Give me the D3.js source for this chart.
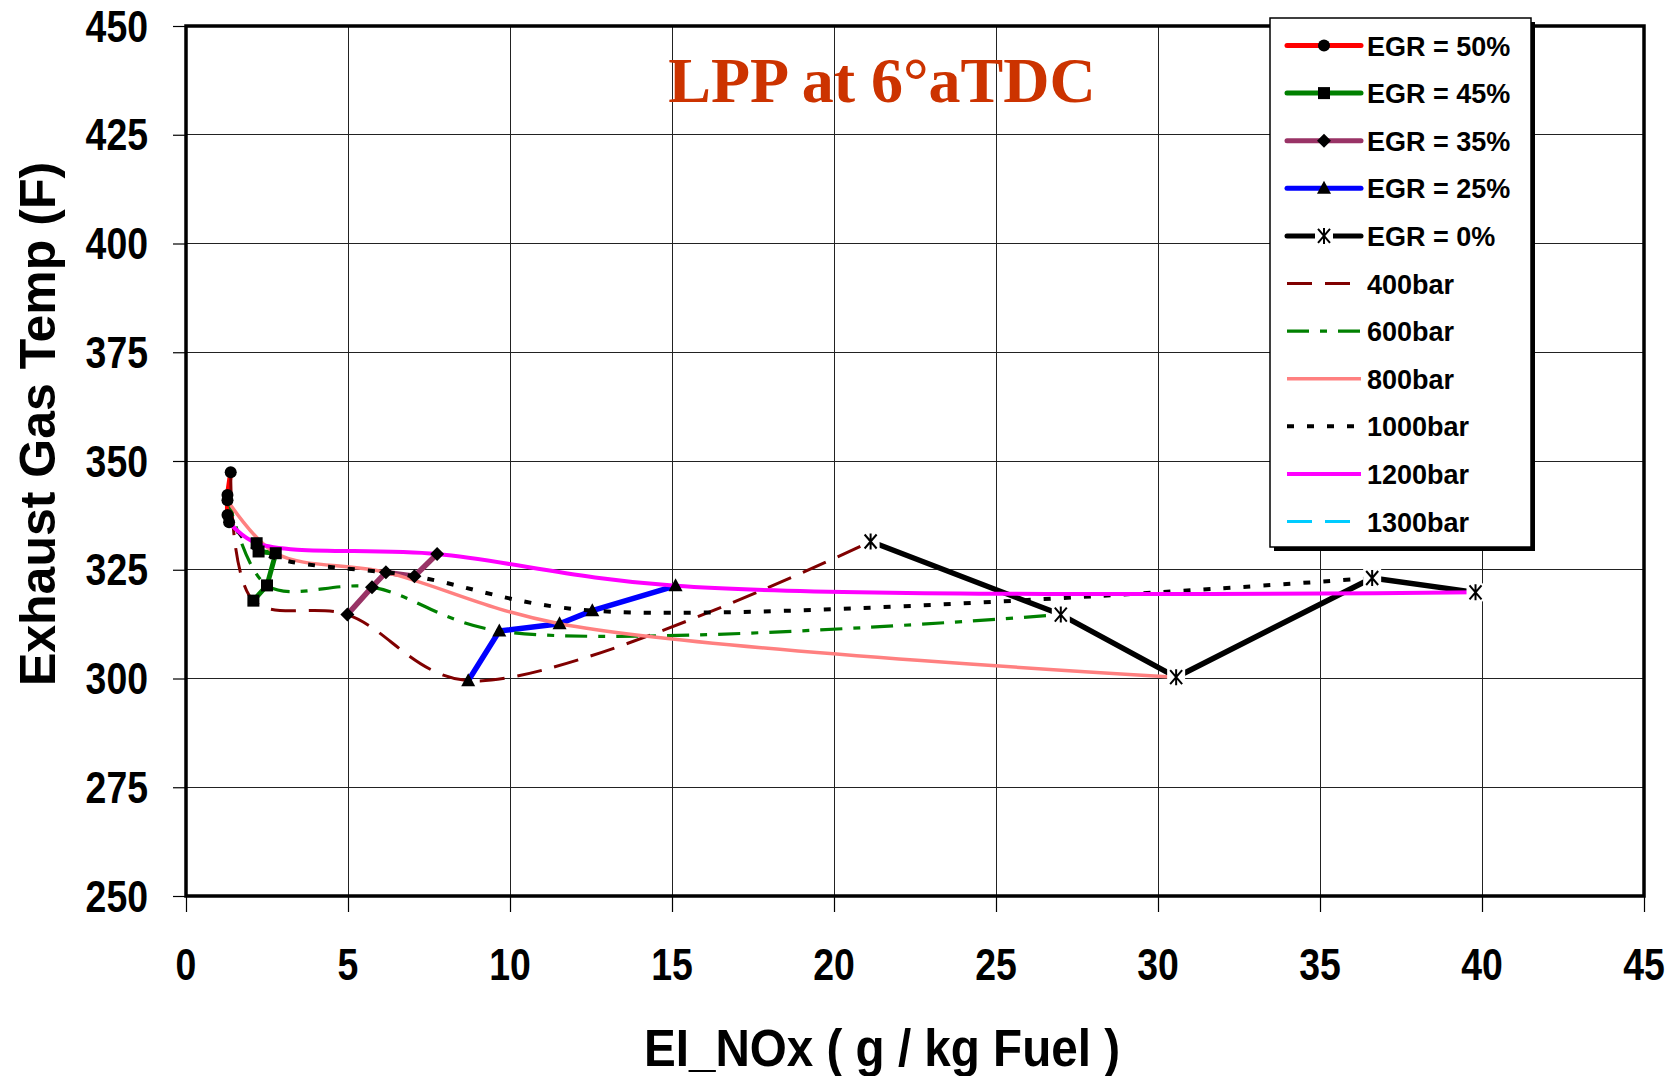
<!DOCTYPE html>
<html><head><meta charset="utf-8">
<script src="https://cdn.jsdelivr.net/npm/d3@7"></script>
<style>body{margin:0;background:#fff} svg{display:block}</style>
</head><body>
<svg id="chart" width="1676" height="1076"></svg>
<script>
// Exhaust gas temperature vs. EI_NOx for LPP at 6°aTDC.
// Each EGR series holds one point per injection pressure, in the order 400, 600, 800, 1000, 1200 bar.
const egrLabels = ["EGR = 50%", "EGR = 45%", "EGR = 35%", "EGR = 25%", "EGR = 0%"];
const egr50 = [[1.38, 347.4], [1.28, 342.2], [1.28, 341.0], [1.28, 337.6], [1.33, 335.9]];
const egr45 = [[2.08, 317.9], [2.50, 321.4], [2.77, 328.8], [2.24, 329.2], [2.18, 331.1]];
const egr35 = [[4.98, 314.7], [5.74, 321.0], [6.17, 324.4], [7.05, 323.5], [7.75, 328.6]];
const egr25 = [[8.71, 299.5], [9.67, 310.9], [11.53, 312.6], [12.54, 315.6], [15.11, 321.3]];
const egr0  = [[21.13, 331.5], [27.00, 314.7], [30.56, 300.3], [36.61, 323.1], [39.80, 319.8]];
const pressureLabels = ["400bar", "600bar", "800bar", "1000bar", "1200bar", "1300bar"];
const xTicks = [0, 5, 10, 15, 20, 25, 30, 35, 40, 45];
const yTicks = [250, 275, 300, 325, 350, 375, 400, 425, 450];

const egrSeries = [egr50, egr45, egr35, egr25, egr0];
// constant-pressure curves: the i-th point of every EGR series (1300bar has no points)
const pressureSeries = pressureLabels.map((_, i) => egrSeries.filter(s => s[i]).map(s => s[i]));

const egrStyle = [
  {color: "#FF0000", width: 5,   marker: "circle"},
  {color: "#008000", width: 5,   marker: "square"},
  {color: "#993366", width: 5.5, marker: "diamond"},
  {color: "#0000FF", width: 5.5, marker: "triangle"},
  {color: "#000000", width: 5.5, marker: "asterisk"}
];
const pressureStyle = [
  {color: "#800000", width: 3,   dash: "25,13"},
  {color: "#008000", width: 3.2, dash: "22,11,7,11"},
  {color: "#FF8080", width: 3.5, dash: null},
  {color: "#000000", width: 4,   dash: "7,13"},
  {color: "#FF00FF", width: 4,   dash: null},
  {color: "#00CCFF", width: 3,   dash: "25,13"}
];

const svg = d3.select("#chart");
const x = d3.scaleLinear().domain([0, 45]).range([186, 1644]);
const y = d3.scaleLinear().domain([250, 450]).range([896, 26]);
const FONT = "'Liberation Sans', Arial, Helvetica, sans-serif";

// grid
svg.append("g").selectAll("line").data(xTicks.slice(1, -1)).join("line")
  .attr("x1", d => x(d)).attr("x2", d => x(d)).attr("y1", y(450)).attr("y2", y(250))
  .attr("stroke", "#222").attr("stroke-width", 1).attr("shape-rendering", "crispEdges");
svg.append("g").selectAll("line").data(yTicks.slice(1, -1)).join("line")
  .attr("y1", d => y(d)).attr("y2", d => y(d)).attr("x1", x(0)).attr("x2", x(45))
  .attr("stroke", "#222").attr("stroke-width", 1).attr("shape-rendering", "crispEdges");

// axes with outward ticks
const yAxis = svg.append("g").attr("transform", `translate(${x(0)},0)`)
  .call(d3.axisLeft(y).tickValues(yTicks).tickSize(13).tickFormat(""));
const xAxis = svg.append("g").attr("transform", `translate(0,${y(250)})`)
  .call(d3.axisBottom(x).tickValues(xTicks).tickSize(16).tickFormat(""));
[yAxis, xAxis].forEach(g => {
  g.select(".domain").remove();
  g.selectAll(".tick line").attr("stroke", "#000").attr("stroke-width", 1.2);
});

// tick labels (condensed bold digits)
svg.append("g").selectAll("text").data(yTicks).join("text")
  .attr("x", 148).attr("y", d => y(d) + 15.5).attr("text-anchor", "end")
  .attr("font-family", FONT).attr("font-weight", "bold").attr("font-size", 44)
  .attr("textLength", d => String(d).length * 20.8).attr("lengthAdjust", "spacingAndGlyphs")
  .text(d => d);
svg.append("g").selectAll("text").data(xTicks).join("text")
  .attr("x", d => x(d)).attr("y", 980).attr("text-anchor", "middle")
  .attr("font-family", FONT).attr("font-weight", "bold").attr("font-size", 44)
  .attr("textLength", d => String(d).length * 20.8).attr("lengthAdjust", "spacingAndGlyphs")
  .text(d => d);

// EGR lines (straight segments)
const straight = d3.line().x(d => x(d[0])).y(d => y(d[1]));
svg.append("g").selectAll("path").data(egrSeries).join("path")
  .attr("d", straight).attr("fill", "none")
  .attr("stroke", (d, i) => egrStyle[i].color)
  .attr("stroke-width", (d, i) => egrStyle[i].width)
  .attr("stroke-linejoin", "round");

// constant-pressure curves (smoothed)
const smooth = d3.line().x(d => x(d[0])).y(d => y(d[1])).curve(d3.curveCatmullRom.alpha(0.5));
svg.append("g").selectAll("path").data(pressureSeries).join("path")
  .attr("d", d => d.length ? smooth(d) : null).attr("fill", "none")
  .attr("stroke", (d, i) => pressureStyle[i].color)
  .attr("stroke-width", (d, i) => pressureStyle[i].width)
  .attr("stroke-dasharray", (d, i) => pressureStyle[i].dash);

// marker drawing
function drawMarker(g, type) {
  if (type === "circle") g.append("circle").attr("r", 6).attr("fill", "#000");
  else if (type === "square") g.append("rect").attr("x", -6).attr("y", -6).attr("width", 12).attr("height", 12).attr("fill", "#000");
  else if (type === "diamond") g.append("path").attr("d", "M0,-7L7,0L0,7L-7,0Z").attr("fill", "#000");
  else if (type === "triangle") g.append("path").attr("d", "M0,-7.5L7,5.5L-7,5.5Z").attr("fill", "#000");
  else if (type === "asterisk") {
    g.append("rect").attr("x", -9).attr("y", -9).attr("width", 18).attr("height", 18).attr("fill", "#fff");
    g.append("path").attr("d", "M-6,-7L6,7M6,-7L-6,7M0,-8L0,8")
      .attr("stroke", "#000").attr("stroke-width", 2).attr("fill", "none");
  }
}
egrSeries.forEach((s, i) => {
  svg.append("g").selectAll("g").data(s).join("g")
    .attr("transform", d => `translate(${x(d[0])},${y(d[1])})`)
    .each(function() { drawMarker(d3.select(this), egrStyle[i].marker); });
});

// plot frame
svg.append("rect").attr("x", x(0)).attr("y", y(450))
  .attr("width", x(45) - x(0)).attr("height", y(250) - y(450))
  .attr("fill", "none").attr("stroke", "#000").attr("stroke-width", 3.5);

// title and axis titles
svg.append("text").attr("x", 882).attr("y", 102).attr("text-anchor", "middle")
  .attr("font-family", "'Liberation Serif', 'Times New Roman', serif").attr("font-weight", "bold")
  .attr("font-size", 64).attr("fill", "#CC3300").text("LPP at 6°aTDC");
svg.append("text").attr("transform", "translate(55,424) rotate(-90)").attr("text-anchor", "middle")
  .attr("font-family", FONT).attr("font-weight", "bold").attr("font-size", 50)
  .text("Exhaust Gas Temp (F)");
svg.append("text").attr("x", 882).attr("y", 1066).attr("text-anchor", "middle")
  .attr("font-family", FONT).attr("font-weight", "bold").attr("font-size", 51)
  .attr("textLength", 476).attr("lengthAdjust", "spacingAndGlyphs")
  .text("EI_NOx ( g / kg Fuel )");

// legend
const lg = svg.append("g");
lg.append("rect").attr("x", 1274).attr("y", 22).attr("width", 261).attr("height", 529).attr("fill", "#000");
lg.append("rect").attr("x", 1270).attr("y", 18).attr("width", 261).attr("height", 529)
  .attr("fill", "#fff").attr("stroke", "#000").attr("stroke-width", 1.5);
const legendItems = egrLabels.map((t, i) => ({text: t, kind: "egr", i}))
  .concat(pressureLabels.map((t, i) => ({text: t, kind: "p", i})));
const rows = lg.selectAll("g.row").data(legendItems).join("g").attr("class", "row")
  .attr("transform", (d, k) => `translate(0,${45.5 + k * 47.6})`);
rows.each(function(d) {
  const g = d3.select(this);
  const st = d.kind === "egr" ? egrStyle[d.i] : pressureStyle[d.i];
  g.append("line").attr("x1", 1287).attr("x2", 1361).attr("y1", 0).attr("y2", 0)
    .attr("stroke", st.color).attr("stroke-width", d.kind === "egr" ? 5 : st.width)
    .attr("stroke-linecap", d.kind === "egr" ? "round" : "butt")
    .attr("stroke-dasharray", d.kind === "egr" ? null : st.dash);
  if (d.kind === "egr") {
    const m = g.append("g").attr("transform", "translate(1324,0)");
    drawMarker(m, st.marker);
  }
  g.append("text").attr("x", 1367).attr("y", 10).attr("font-family", FONT)
    .attr("font-weight", "bold").attr("font-size", 27).text(d.text);
});
</script>
</body></html>
